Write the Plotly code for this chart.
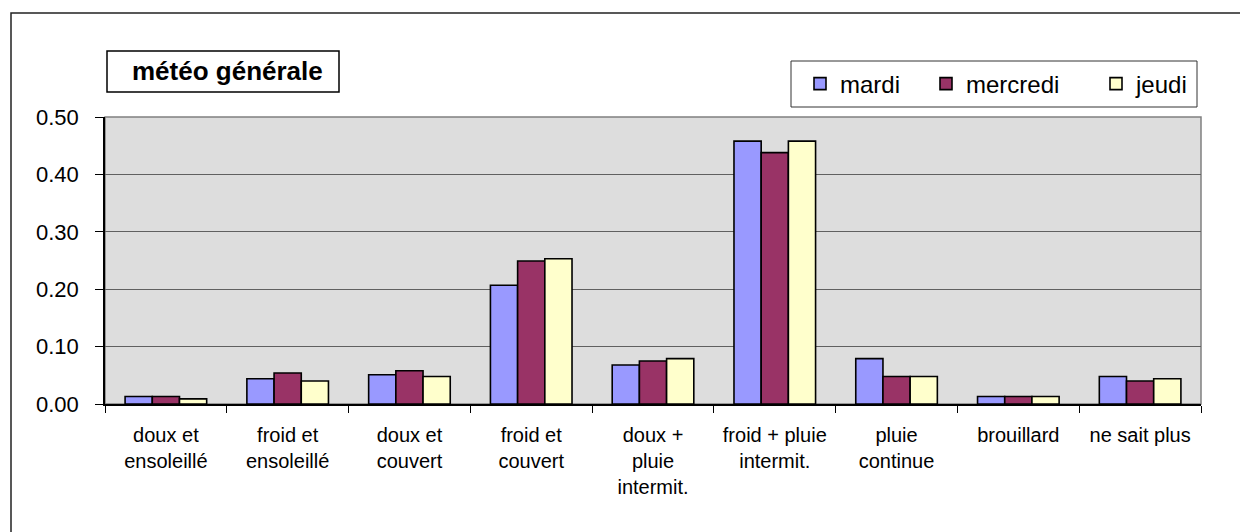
import plotly.graph_objects as go

categories = ["doux et<br>ensoleillé", "froid et<br>ensoleillé", "doux et<br>couvert",
              "froid et<br>couvert", "doux +<br>pluie<br>intermit.", "froid + pluie<br>intermit.",
              "pluie<br>continue", "brouillard", "ne sait plus"]
cat_keys = ["c%d" % i for i in range(len(categories))]

series_names = ["mardi", "mercredi", "jeudi"]
mardi = [0.013, 0.044, 0.051, 0.207, 0.068, 0.458, 0.079, 0.013, 0.048]
mercredi = [0.013, 0.054, 0.058, 0.249, 0.075, 0.438, 0.048, 0.013, 0.040]
jeudi = [0.009, 0.040, 0.048, 0.253, 0.079, 0.458, 0.048, 0.013, 0.044]
series_values = [mardi, mercredi, jeudi]
colors = ["#9999FF", "#993366", "#FFFFCC"]

y_ticks = [0.0, 0.1, 0.2, 0.3, 0.4, 0.5]
title_text = "météo générale"

# page body has an 8px margin; figure sized/positioned to compensate
OFF = 8
W, H = 1240, 524
ML, MR, MT, MB = 97, 47, 109, 128
PW, PH = W - ML - MR, H - MT - MB


def px(X):
    return (X - OFF - ML) / PW


def py(Y):
    return (H - MB - (Y - OFF)) / PH


legend_keys = ["legend", "legend2", "legend3"]
legend_left = [800, 926, 1096]

FONT = "Liberation Sans, Arial, sans-serif"

fig = go.Figure()
for name, vals, col, lk in zip(series_names, series_values, colors, legend_keys):
    fig.add_trace(go.Bar(
        name=name, x=cat_keys, y=vals, legend=lk,
        marker=dict(color=col, line=dict(color="#000000", width=1.6)),
    ))

legend_layout = {}
for lk, lx in zip(legend_keys, legend_left):
    legend_layout[lk] = dict(
        orientation="h", x=px(lx), xanchor="left", y=py(84), yanchor="middle",
        bgcolor="rgba(0,0,0,0)", borderwidth=0,
        font=dict(size=24, family=FONT, color="black"),
    )

fig.update_layout(
    width=W, height=H,
    margin=dict(l=ML, r=MR, t=MT, b=MB),
    paper_bgcolor="white",
    plot_bgcolor="#DDDDDD",
    barmode="group", bargap=0.33, bargroupgap=0,
    font=dict(family=FONT, color="black"),
    showlegend=True,
    xaxis=dict(
        type="category", tickmode="array", tickvals=cat_keys, ticktext=categories,
        tickson="boundaries", ticks="outside", ticklen=7, tickcolor="black",
        showline=True, linecolor="black", linewidth=1.5, showgrid=False,
        tickfont=dict(size=20, family=FONT), ticklabelstandoff=12,
    ),
    yaxis=dict(
        range=[0, 0.5], tickmode="array", tickvals=y_ticks,
        ticktext=["%.2f" % v for v in y_ticks],
        ticks="outside", ticklen=8, tickcolor="black",
        showline=True, linecolor="black", linewidth=1.5,
        showgrid=True, gridcolor="#606060", gridwidth=1,
        tickfont=dict(size=22, family=FONT), ticklabelstandoff=12,
        zeroline=False,
    ),
    shapes=[
        # outer chart frame
        dict(type="rect", xref="paper", yref="paper", x0=px(11), y0=py(570), x1=px(1280), y1=py(13),
             line=dict(color="#222222", width=1.5), fillcolor="rgba(0,0,0,0)", layer="above"),
        # plot area border
        dict(type="rect", xref="paper", yref="paper", x0=0, y0=0, x1=1, y1=1,
             line=dict(color="#808080", width=1.5), fillcolor="rgba(0,0,0,0)", layer="below"),
        # title box
        dict(type="rect", xref="paper", yref="paper", x0=px(107), y0=py(92), x1=px(339), y1=py(51),
             line=dict(color="black", width=1.5), fillcolor="white", layer="above"),
        # legend box
        dict(type="rect", xref="paper", yref="paper", x0=px(791), y0=py(107), x1=px(1197), y1=py(61),
             line=dict(color="#333333", width=1), fillcolor="white", layer="below"),
    ],
    annotations=[
        dict(text="<b>" + title_text + "</b>", xref="paper", yref="paper",
             x=px(227), y=py(71), xanchor="center", yanchor="middle", showarrow=False,
             font=dict(size=26, family=FONT, color="black")),
    ],
    **legend_layout,
)

fig.write_html("out.html")
